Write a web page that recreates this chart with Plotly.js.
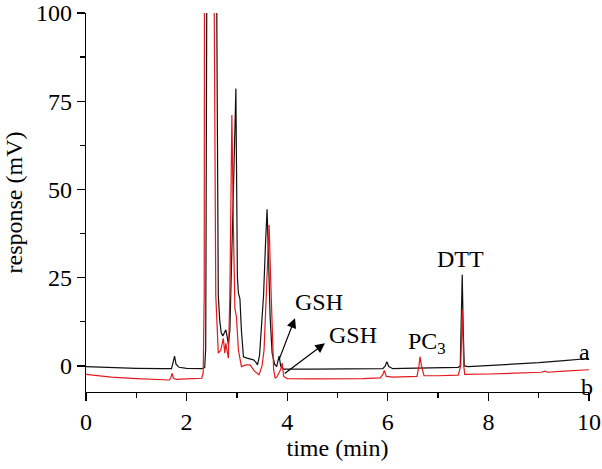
<!DOCTYPE html>
<html>
<head>
<meta charset="utf-8">
<script src="https://cdn.plot.ly/plotly-3.0.1.min.js"></script>
<style>html,body{margin:0;padding:0;background:#fff;}#chart{width:602px;height:469px;}</style>
</head>
<body>
<div id="chart"></div>
<script>
// Trace a (black)
const timeA = [0.00,0.50,1.00,1.50,1.70,1.74,1.76,1.79,1.85,2.00,2.30,2.36,2.38,2.40,2.41,2.55,2.60,2.63,2.66,2.69,2.72,2.75,2.78,2.81,2.83,2.86,2.90,2.94,2.98,3.00,3.01,3.03,3.06,3.09,3.13,3.20,3.33,3.38,3.41,3.45,3.49,3.53,3.57,3.60,3.63,3.66,3.70,3.75,3.79,3.82,3.84,3.87,3.92,4.50,5.00,5.50,5.90,5.95,5.98,6.02,6.10,6.30,6.80,7.40,7.44,7.46,7.48,7.50,7.52,7.60,8.00,8.50,9.00,9.50,10.00];
const respA = [-0.2,-0.5,-0.7,-0.8,-0.8,1.5,2.8,0.5,-0.4,-0.7,-0.8,-0.5,5,100,400,400,100,20,12.6,9.3,8.5,9.5,10.2,8.0,6.0,10,30,55,78.6,50,25,20.7,19,10,2.6,2.2,1.7,1.0,0.3,3,11,20,35,44.4,30,14,3.7,0.5,-0.2,1.5,2.8,0,-0.9,-0.9,-0.9,-0.9,-0.8,0,1.2,-0.2,-0.8,-0.7,-0.6,-0.4,0,10,25.8,10,0,-0.2,0.1,0.5,0.9,1.5,2.1];
// Trace b (red)
const timeB = [0.00,0.50,1.00,1.50,1.66,1.69,1.71,1.74,1.80,2.00,2.30,2.33,2.35,2.37,2.52,2.55,2.58,2.63,2.68,2.73,2.76,2.78,2.83,2.86,2.90,2.93,2.96,2.99,3.03,3.09,3.18,3.26,3.35,3.44,3.50,3.54,3.59,3.64,3.67,3.70,3.73,3.76,3.80,3.87,3.90,3.93,4.00,4.50,5.00,5.50,5.85,5.90,5.93,5.97,6.10,6.50,6.58,6.62,6.64,6.67,6.72,7.00,7.40,7.45,7.48,7.51,7.53,8.00,8.50,9.05,9.12,9.18,9.50,10.00];
const respB = [-2.4,-3.2,-3.6,-3.9,-4.0,-3.2,-2.1,-3.5,-3.8,-3.7,-3.5,-2,20,400,400,100,20,3.6,4.5,7.8,3.6,6.4,2.2,20,71.1,40,16.3,14,4.5,-0.2,0.3,0.3,-1.5,-2.5,0,4.5,20,39.9,25,8,-1,-3.5,-3.0,-1,0.8,-3.0,-3.6,-3.7,-3.7,-3.6,-3.4,-2.5,-1.3,-3.0,-3.2,-3.0,-3.0,0,2.6,0,-2.8,-2.8,-2.6,0,15.9,0,-2.4,-2.3,-2.0,-1.8,-1.5,-1.8,-1.5,-1.1];

// Labels
const labelText = ['GSH','GSH','PC<sub>3</sub>','DTT','a','b'];
const labelX = [4.63,5.30,6.78,7.44,9.92,9.96];
const labelY = [18.1,8.8,6.5,30.3,4.0,-5.9];
// Arrows: head and tail
const arrowHeadX = [4.155,4.75];
const arrowHeadY = [13.5,6.4];
const arrowTailX = [3.823,3.92];
const arrowTailY = [1.2,-2.5];

const font = '"Liberation Serif", "Times New Roman", Times, serif';
const fs = 24;

const traces = [
  {x: timeA, y: respA, type:'scatter', mode:'lines', line:{color:'#111', width:1.2}, hoverinfo:'skip'},
  {x: timeB, y: respB, type:'scatter', mode:'lines', line:{color:'#e3191c', width:1.2}, hoverinfo:'skip'}
];

const annotations = [];
for (let i=0;i<labelText.length;i++){
  annotations.push({x:labelX[i], y:labelY[i], xref:'x', yref:'y', text:labelText[i], showarrow:false,
    font:{family:font, size:fs, color:'#000'}, xanchor:'center', yanchor:'middle'});
}
for (let i=0;i<arrowHeadX.length;i++){
  annotations.push({x:arrowHeadX[i], y:arrowHeadY[i], ax:arrowTailX[i], ay:arrowTailY[i], xref:'x', yref:'y', axref:'x', ayref:'y',
    text:'', showarrow:true, arrowhead:2, arrowsize:1.6, arrowwidth:1.2, arrowcolor:'#000'});
}

const layout = {
  width:602, height:469,
  margin:{l:86, r:13, t:13, b:77},
  paper_bgcolor:'#fff', plot_bgcolor:'#fff',
  showlegend:false,
  font:{family:font, size:fs, color:'#000'},
  xaxis:{range:[0,10], tickvals:[0,2,4,6,8,10], showgrid:false, zeroline:false, showline:true, linewidth:1.3, linecolor:'#000',
    ticks:'outside', ticklen:8, tickwidth:1.3, tickcolor:'#000',
    minor:{tickvals:[1,3,5,7,9], ticks:'outside', ticklen:5, tickwidth:1.3, tickcolor:'#000'},
    tickfont:{family:font, size:fs}, title:{text:'time (min)', font:{family:font, size:fs}, standoff:0}},
  yaxis:{range:[-7.4,100], tickvals:[0,25,50,75,100], showgrid:false, zeroline:false, showline:true, linewidth:1.3, linecolor:'#000',
    ticks:'outside', ticklen:8, tickwidth:1.3, tickcolor:'#000',
    minor:{tickvals:[12.5,37.5,62.5,87.5], ticks:'outside', ticklen:5, tickwidth:1.3, tickcolor:'#000'},
    tickfont:{family:font, size:fs}, title:{text:'response (mV)', font:{family:font, size:fs}, standoff:6}},
  annotations: annotations
};

Plotly.newPlot('chart', traces, layout, {staticPlot:true});
</script>
</body>
</html>
